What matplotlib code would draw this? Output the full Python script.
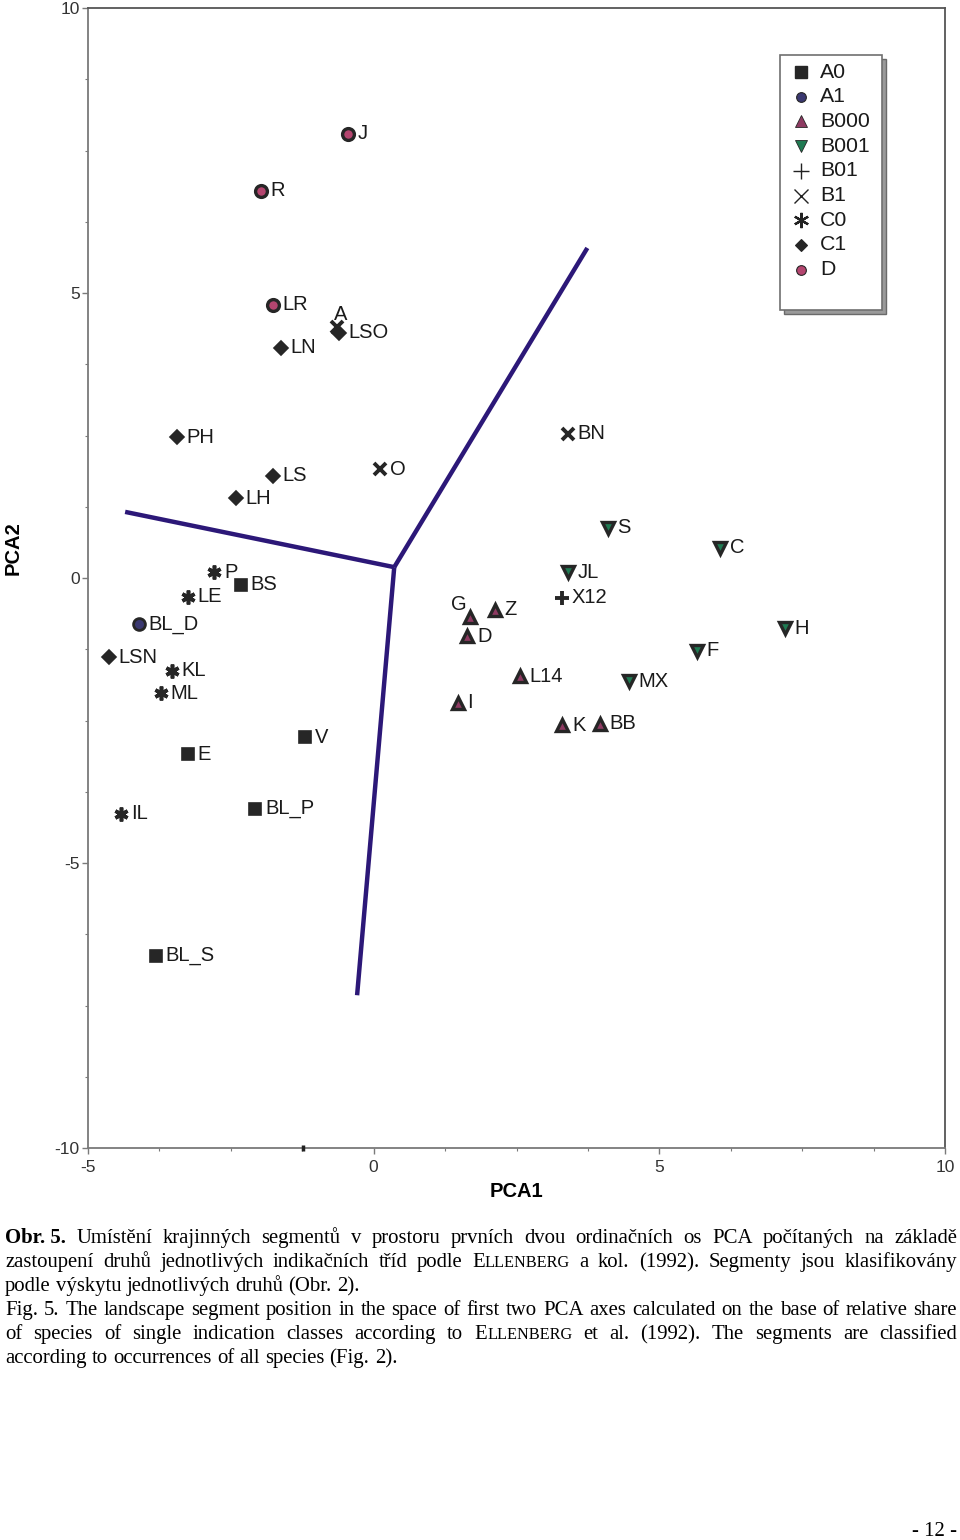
import matplotlib
matplotlib.use("Agg")
import matplotlib.pyplot as plt
from matplotlib.patches import Rectangle
from matplotlib.ticker import MultipleLocator

# ---------------- data ----------------
groups = ["A0", "A1", "B000", "B001", "B01", "B1", "C0", "C1", "D"]

names_A0 = ["BS", "V", "E", "BL_P", "BL_S"]
x_A0 = [-2.32, -1.20, -3.25, -2.07, -3.81]
y_A0 = [-0.12, -2.79, -3.09, -4.05, -6.63]

names_A1 = ["BL_D"]
x_A1 = [-4.11]
y_A1 = [-0.81]

names_B000 = ["G", "Z", "D", "L14", "I", "K", "BB"]
x_B000 = [1.69, 2.12, 1.64, 2.56, 1.47, 3.30, 3.96]
y_B000 = [-0.68, -0.56, -1.02, -1.72, -2.19, -2.58, -2.56]

names_B001 = ["S", "C", "JL", "H", "F", "MX"]
x_B001 = [4.10, 6.06, 3.40, 7.20, 5.66, 4.47]
y_B001 = [0.88, 0.53, 0.10, -0.88, -1.28, -1.81]

names_B01 = ["X12"]
x_B01 = [3.30]
y_B01 = [-0.35]

names_B1 = ["A", "O", "BN"]
x_B1 = [-0.65, 0.11, 3.40]
y_B1 = [4.40, 1.91, 2.53]

names_C0 = ["P", "LE", "KL", "ML", "IL"]
x_C0 = [-2.79, -3.25, -3.53, -3.72, -4.42]
y_C0 = [0.10, -0.33, -1.63, -2.02, -4.14]

names_C1 = ["LN", "LSO", "PH", "LS", "LH", "LSN"]
x_C1 = [-1.62, -0.61, -3.44, -1.76, -2.41, -4.63]
y_C1 = [4.04, 4.30, 2.47, 1.79, 1.40, -1.39]

names_D = ["J", "R", "LR"]
x_D = [-0.45, -1.97, -1.76]
y_D = [7.79, 6.79, 4.79]

# separating lines (centre and three arm ends)
line_center = (0.36, 0.19)
line_ends_x = [-4.35, 3.74, -0.29]
line_ends_y = [1.16, 5.79, -7.32]

x_ticks = [-5, 0, 5, 10]
y_ticks = [-10, -5, 0, 5, 10]

caption_lines = [
    [[("Obr. 5.", "b")], "Umístění krajinných segmentů v prostoru prvních dvou ordinačních os PCA počítaných na základě"],
    [None, "zastoupení druhů jednotlivých indikačních tříd podle §ELLENBERG a kol. (1992). Segmenty jsou klasifikovány"],
    [None, "podle výskytu jednotlivých druhů (Obr. 2)."],
    [None, "Fig. 5. The landscape segment position in the space of first two PCA axes calculated on the base of relative share"],
    [None, "of species of single indication classes according to §ELLENBERG et al. (1992). The segments are classified"],
    [None, "according to occurrences of all species (Fig. 2)."],
]
justify = [True, True, False, True, True, False]

# ---------------- styles ----------------
EDGE = "#262626"
styles = {
    "A0": dict(marker="s", fc="#262626", ms=8, mew=1.2, lms=8, lmew=1.0),
    "A1": dict(marker="o", fc="#3a3870", ms=8.5, mew=2.0, lms=7, lmew=0.8),
    "B000": dict(marker="^", fc="#8e3a62", ms=8.5, mew=2.4, lms=9, lmew=0.6),
    "B001": dict(marker="v", fc="#1f7a52", ms=8.5, mew=2.4, lms=9, lmew=0.6),
    "B01": dict(marker="+", fc="none", ms=9.5, mew=2.8, lms=11, lmew=1.0),
    "B1": dict(marker="x", fc="none", ms=8.5, mew=2.8, lms=10, lmew=1.0),
    "C0": dict(marker=(6, 2, 0), fc="none", ms=10, mew=2.6, lms=11, lmew=1.6),
    "C1": dict(marker="D", fc="#262626", ms=7, mew=1.2, lms=6.5, lmew=0.8),
    "D": dict(marker="o", fc="#b4456f", ms=8.5, mew=2.4, lms=7, lmew=0.8),
}

data = {
    "A0": (names_A0, x_A0, y_A0), "A1": (names_A1, x_A1, y_A1),
    "B000": (names_B000, x_B000, y_B000), "B001": (names_B001, x_B001, y_B001),
    "B01": (names_B01, x_B01, y_B01), "B1": (names_B1, x_B1, y_B1),
    "C0": (names_C0, x_C0, y_C0), "C1": (names_C1, x_C1, y_C1),
    "D": (names_D, x_D, y_D),
}

# special label placements (points offset, ha)
label_offset = {("B000", "G"): (-8, 9, "center"), ("B1", "A"): (3, 9, "center")}

W, H = 960, 1540
fig = plt.figure(figsize=(W / 100, H / 100), dpi=100)
ax = fig.add_axes([88 / W, 1 - 1148 / H, (945 - 88) / W, (1148 - 8) / H])
ax.set_xlim(-5, 10)
ax.set_ylim(-10, 10)

SANS = ["Liberation Sans", "DejaVu Sans"]
SERIF = ["Liberation Serif", "DejaVu Serif"]

# lines
LINE_COLOR = "#2c1878"
for ex, ey in zip(line_ends_x, line_ends_y):
    ax.plot([line_center[0], ex], [line_center[1], ey], color=LINE_COLOR, lw=3.2,
            solid_capstyle="butt", zorder=2)

# points + labels
for g in groups:
    st = styles[g]
    names, xs, ys = data[g]
    if st["fc"] == "none":
        ax.plot(xs, ys, ls="none", marker=st["marker"], ms=st["ms"], mew=st["mew"],
                color=EDGE, zorder=4)
    else:
        ax.plot(xs, ys, ls="none", marker=st["marker"], ms=st["ms"], mew=st["mew"],
                mfc=st["fc"], mec=EDGE, zorder=4)
    for n, x, y in zip(names, xs, ys):
        dx, dy, ha = label_offset.get((g, n), (7, 0, "left"))
        ax.annotate(n, (x, y), xytext=(dx, dy), textcoords="offset points",
                    ha=ha, va="center", fontsize=14.5, family=SANS, color="#1a1a1a",
                    zorder=5)

# small stray mark on bottom axis
ax.plot([-1.24], [-10], marker="|", ms=5, mew=2.5, color="#222222", clip_on=False, zorder=6)

# axes styling
for s in ["left", "bottom"]:
    ax.spines[s].set_color("#7a7a7a")
    ax.spines[s].set_linewidth(1.3)
for s in ["top", "right"]:
    ax.spines[s].set_color("#555555")
    ax.spines[s].set_linewidth(1.3)
ax.set_xticks(x_ticks)
ax.set_yticks(y_ticks)
ax.set_xticklabels([str(v) for v in x_ticks])
ax.set_yticklabels([str(v) for v in y_ticks])
ax.xaxis.set_minor_locator(MultipleLocator(1.25))
ax.yaxis.set_minor_locator(MultipleLocator(1.25))
ax.tick_params(which="major", direction="out", length=4, width=1.0, color="#7a7a7a",
               labelsize=12.5, labelcolor="#333333")
ax.tick_params(axis="x", which="major", pad=5)
ax.tick_params(axis="y", which="major", pad=2)
ax.tick_params(which="minor", direction="out", length=2.5, width=0.8, color="#7a7a7a")
for lab in ax.get_xticklabels() + ax.get_yticklabels():
    lab.set_family(SANS)

ax.set_xlabel("PCA1", fontsize=14.5, fontweight="bold", family=SANS)
ax.xaxis.set_label_coords(0.5, -0.030)
ax.xaxis.label.set_va("top")
ax.set_ylabel("PCA2", fontsize=14.5, fontweight="bold", family=SANS)
ax.yaxis.set_label_coords(-0.076, 1 - (548 - 8) / 1140)

# legend (manual box with shadow)
lx0, lx1 = (780 - 88) / 857, (882 - 88) / 857
ly1, ly0 = 1 - (55 - 8) / 1140, 1 - (310 - 8) / 1140
sdx, sdy = 4 / 857, 4 / 1140
ax.add_patch(Rectangle((lx0 + sdx, ly0 - sdy), lx1 - lx0, ly1 - ly0, transform=ax.transAxes,
                       facecolor="#9a9a9a", edgecolor="#6a6a6a", lw=1.0, zorder=6, clip_on=False))
ax.add_patch(Rectangle((lx0, ly0), lx1 - lx0, ly1 - ly0, transform=ax.transAxes,
                       facecolor="white", edgecolor="#707070", lw=1.2, zorder=7, clip_on=False))
for i, g in enumerate(groups):
    st = styles[g]
    yy = 1 - (72 + i * 24.7 - 8) / 1140
    mx = (801 - 88) / 857
    if st["fc"] == "none":
        ax.plot([mx], [yy], transform=ax.transAxes, ls="none", marker=st["marker"],
                ms=st["lms"], mew=st["lmew"], color="#222222", zorder=8, clip_on=False)
    else:
        ax.plot([mx], [yy], transform=ax.transAxes, ls="none", marker=st["marker"],
                ms=st["lms"], mew=st["lmew"], mfc=st["fc"], mec=EDGE, zorder=8, clip_on=False)
    ax.text((820 - 88) / 857, yy, g, transform=ax.transAxes, ha="left", va="center",
            fontsize=15.3, family=SANS, color="#1a1a1a", zorder=8)

# ---------------- caption (justified) ----------------
fig.canvas.draw()
renderer = fig.canvas.get_renderer()


def measure(text, size, weight):
    t = fig.text(0, 0, text, fontsize=size, fontweight=weight, family=SERIF)
    w = t.get_window_extent(renderer).width
    t.remove()
    return w


def build_words(pre, txt, fs):
    sc = fs * 0.78
    words = []
    if pre:
        for ptxt, pw in pre:
            words.append([(ptxt, fs, "bold")])
    for w in txt.split(" "):
        if w.startswith("§"):
            w = w[1:]
            words.append([(w[0], fs, "normal"), (w[1:], sc, "normal")])
        else:
            words.append([(w, fs, "normal")])
    return words


left_px, right_px = 5, 957
# choose font size so that the widest justified line fits with normal spacing
base_fs = 14.0
sp = measure("a b", base_fs, "normal") - measure("ab", base_fs, "normal")
max_nat = 0
for (pre, txt), just in zip(caption_lines, justify):
    if not just:
        continue
    wds = build_words(pre, txt, base_fs)
    nat = sum(measure(r[0], r[1], r[2]) for runs in wds for r in runs) + sp * (len(wds) - 1)
    max_nat = max(max_nat, nat)
CAP_FS = base_fs * (right_px - left_px - 6) / max_nat

space_w = measure("a b", CAP_FS, "normal") - measure("ab", CAP_FS, "normal")
baselines = [1243, 1267, 1291, 1315, 1339, 1363]

for (pre, txt), just, base in zip(caption_lines, justify, baselines):
    words = build_words(pre, txt, CAP_FS)
    widths = [[measure(r[0], r[1], r[2]) for r in runs] for runs in words]
    total = sum(sum(ws) for ws in widths)
    if just and len(words) > 1:
        gap = (right_px - left_px - total) / (len(words) - 1)
    else:
        gap = space_w
    x = left_px
    for runs, ws in zip(words, widths):
        for (rt, rs, rw), wd in zip(runs, ws):
            fig.text(x / W, 1 - base / H, rt, fontsize=rs, fontweight=rw, family=SERIF,
                     ha="left", va="baseline", color="black")
            x += wd
        x += gap

fig.text(957 / W, 1 - 1536 / H, "- 12 -", fontsize=CAP_FS, family=SERIF, ha="right",
         va="baseline", color="black")

fig.savefig("out.png", dpi=100, facecolor="white")
